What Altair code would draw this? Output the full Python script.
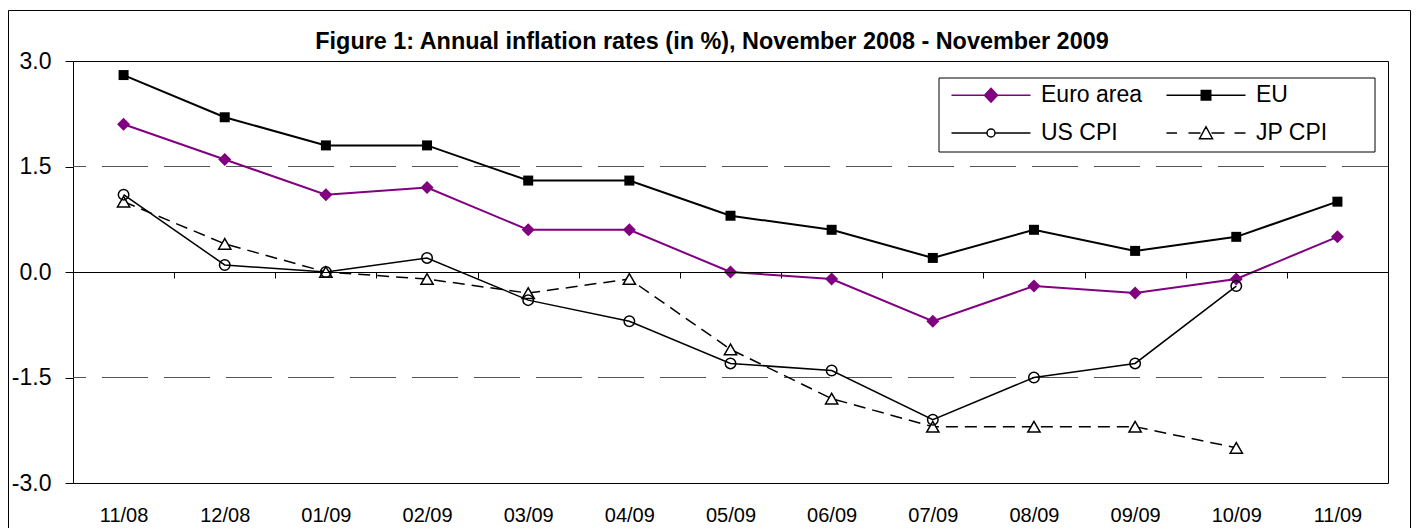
import altair as alt
import pandas as pd

# ---- data ----
months = ["11/08", "12/08", "01/09", "02/09", "03/09", "04/09", "05/09",
          "06/09", "07/09", "08/09", "09/09", "10/09", "11/09"]
euro_area = [2.1, 1.6, 1.1, 1.2, 0.6, 0.6, 0.0, -0.1, -0.7, -0.2, -0.3, -0.1, 0.5]
eu = [2.8, 2.2, 1.8, 1.8, 1.3, 1.3, 0.8, 0.6, 0.2, 0.6, 0.3, 0.5, 1.0]
us_cpi = [1.1, 0.1, 0.0, 0.2, -0.4, -0.7, -1.3, -1.4, -2.1, -1.5, -1.3, -0.2, None]
jp_cpi = [1.0, 0.4, 0.0, -0.1, -0.3, -0.1, -1.1, -1.8, -2.2, -2.2, -2.2, -2.5, None]
series_names = ["Euro area", "EU", "US CPI", "JP CPI"]
y_ticks = [-3.0, -1.5, 0.0, 1.5, 3.0]
grid_values = [-1.5, 1.5]
title_text = "Figure 1: Annual inflation rates (in %), November 2008 - November 2009"

rows = []
for name, vals in zip(series_names, [euro_area, eu, us_cpi, jp_cpi]):
    for m, v in zip(months, vals):
        if v is not None:
            rows.append({"series": name, "month": m, "value": v})
df = pd.DataFrame(rows)
leg_df = pd.DataFrame({"series": series_names})
grid_df = pd.DataFrame({"value": grid_values})

# ---- styling ----
FONT = "Liberation Sans"
PURPLE = "#800080"
W, H = 1315, 422
step = W / len(months)

x_scale = alt.Scale(type="point", domain=months, padding=0.5)
y_scale = alt.Scale(domain=[-3, 3], nice=False, zero=False)

label_axis = alt.Axis(title=None, orient="bottom", labelFont=FONT, labelFontSize=20,
                      labelColor="black", labelPadding=22, ticks=False, tickSize=0,
                      domain=False, grid=False, labelAngle=0)
tick_axis = alt.Axis(title=None, orient="bottom", labels=False, ticks=True, tickSize=6,
                     tickColor="black", tickWidth=1, tickOffset=-step / 2, offset=-H / 2,
                     domain=True, domainColor="black", domainWidth=1, grid=False, zindex=1)
y_axis = alt.Axis(title=None, values=y_ticks, format=".1f",
                  labelExpr="replace(datum.label, '\u2212', '-')",
                  labelFont=FONT, labelFontSize=23, labelColor="black", labelPadding=14,
                  tickSize=8, tickColor="black", tickWidth=1, domain=False, grid=False)


def base(name):
    return alt.Chart(df).transform_filter(alt.datum.series == name)


def enc(chart, xaxis=None):
    return chart.encode(
        x=alt.X("month:N", scale=x_scale, sort=months, axis=xaxis),
        y=alt.Y("value:Q", scale=y_scale, axis=y_axis),
    )


grid_rules = alt.Chart(grid_df).mark_rule(color="#555555", strokeWidth=1, strokeDash=[46, 16]).encode(
    y=alt.Y("value:Q", scale=y_scale, axis=y_axis))

line_euro = enc(base("Euro area").mark_line(color=PURPLE, strokeWidth=2), xaxis=tick_axis)
line_eu = enc(base("EU").mark_line(color="black", strokeWidth=2), xaxis=label_axis)
line_us = enc(base("US CPI").mark_line(color="black", strokeWidth=1.5))
line_jp = enc(base("JP CPI").mark_line(color="black", strokeWidth=1.5, strokeDash=[12, 7]))

pt_euro = enc(base("Euro area").mark_point(shape="diamond", size=169, filled=True,
                                           color=PURPLE, opacity=1))
pt_eu = enc(base("EU").mark_point(shape="square", size=100, filled=True,
                                  color="black", opacity=1))
pt_jp = enc(base("JP CPI").mark_point(shape="triangle-up", size=150, filled=True,
                                      fill="white", stroke="black", strokeWidth=1.5, opacity=1))
pt_us = enc(base("US CPI").mark_point(shape="circle", size=110, filled=False,
                                      color="black", strokeWidth=1.5, opacity=1))

# legend symbols: line sample + marker as custom paths (5 px per unit at size 100)
legend_paths = [
    "M0,0H15.8M7.9,-1.4L9.2,0L7.9,1.4L6.6,0Z",
    "M0,0H15.8M6.95,-0.95H8.85V0.95H6.95Z",
    "M0,0H7.1M8.7,0H15.8M7.1,0A0.8,0.8 0 1,0 8.7,0A0.8,0.8 0 1,0 7.1,0Z",
    "M0,0H2.1M4.4,0H6.8M9,0H11.6M13.6,0H15.8M7.9,-1.25L9.2,1.15L6.6,1.15Z",
]
legend = alt.Legend(title=None, orient="none", legendX=860, legendY=15.5, columns=2,
                    direction="horizontal",
                    padding=7, symbolSize=100, symbolStrokeWidth=1.5, symbolOpacity=1,
                    labelFont=FONT, labelFontSize=23, labelColor="black", labelOffset=78,
                    rowPadding=14, columnPadding=12)
legend_layer = alt.Chart(leg_df).mark_point(opacity=1, clip=True, strokeWidth=1.5, filled=True).encode(
    x=alt.value(-300), y=alt.value(-300),
    shape=alt.Shape("series:N", scale=alt.Scale(domain=series_names, range=legend_paths), legend=legend),
    stroke=alt.Stroke("series:N", scale=alt.Scale(domain=series_names,
                                                  range=[PURPLE, "black", "black", "black"]), legend=legend),
    fill=alt.Fill("series:N", scale=alt.Scale(domain=series_names,
                                              range=[PURPLE, "black", "white", "white"]), legend=legend),
)

one = pd.DataFrame({"k": [0]})
legend_box = alt.Chart(one).mark_rect(fill="white", stroke="black", strokeWidth=1).encode(
    x=alt.value(866), x2=alt.value(1302), y=alt.value(17), y2=alt.value(91))
outer_box = alt.Chart(one).mark_rect(fillOpacity=0, fill="white", stroke="black", strokeWidth=1).encode(
    x=alt.value(-64.5), x2=alt.value(1337.5), y=alt.value(-50.5), y2=alt.value(480))
title_mark = alt.Chart(one).mark_text(
    text=title_text, font=FONT, fontSize=23.4, fontWeight="bold", color="black",
    align="center", baseline="alphabetic").encode(x=alt.value(639), y=alt.value(-11.7))

chart = alt.layer(
    outer_box, grid_rules, line_euro, line_eu, line_us, line_jp,
    pt_euro, pt_eu, pt_jp, pt_us, legend_box, legend_layer, title_mark,
).resolve_axis(x="independent").properties(
    width=W, height=H,
    padding={"left": 65, "top": 53, "right": 23, "bottom": 45},
    autosize=alt.AutoSizeParams(type="none"),
    background="white",
).configure_view(stroke="black", strokeWidth=1)

chart.save("out.html", embed_options={"renderer": "svg", "actions": False})
